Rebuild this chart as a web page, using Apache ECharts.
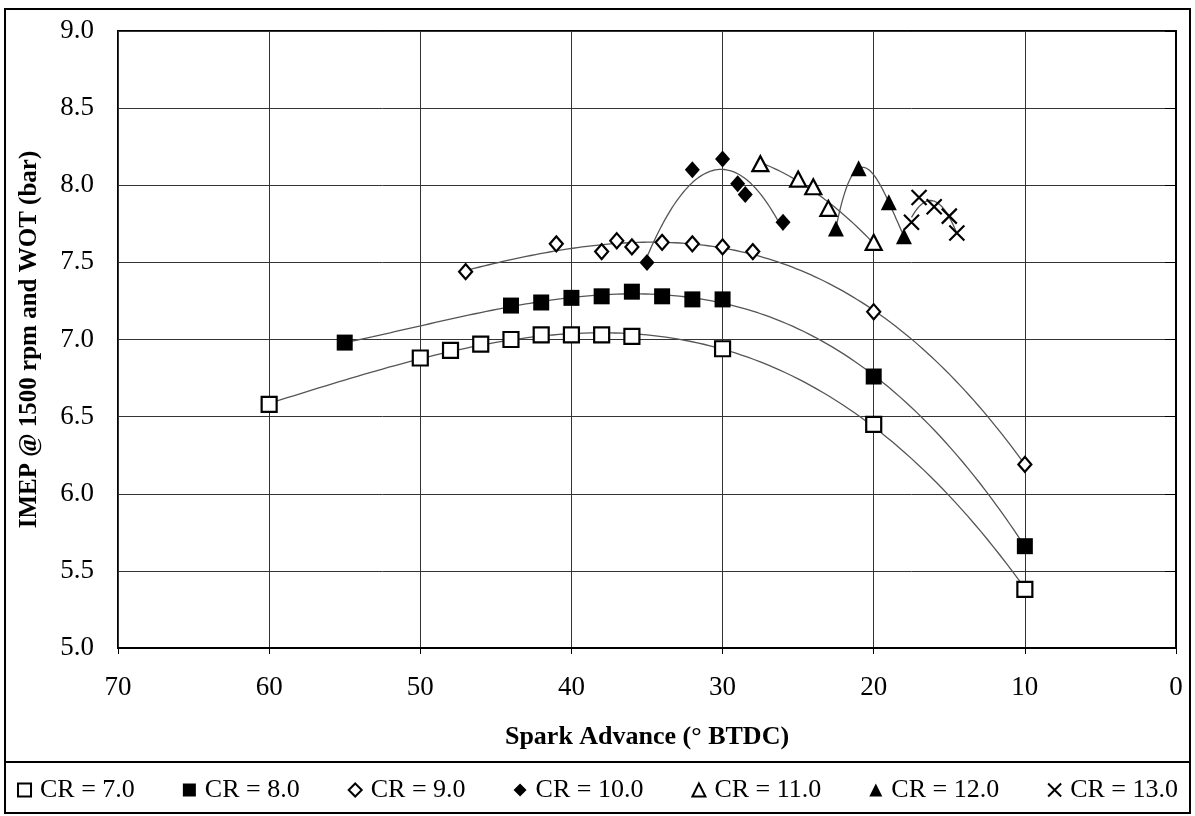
<!DOCTYPE html>
<html>
<head>
<meta charset="utf-8">
<script src="https://cdn.jsdelivr.net/npm/echarts@6/dist/echarts.min.js"></script>
<style>
  html, body { margin: 0; padding: 0; background: #fff; }
  #chart { width: 1195px; height: 816px; }
</style>
</head>
<body>
<div id="chart"></div>
<script>
// Spark advance (deg BTDC) and IMEP (bar) at 1500 rpm, WOT, per compression ratio
const seriesNames = ['CR = 7.0', 'CR = 8.0', 'CR = 9.0', 'CR = 10.0', 'CR = 11.0', 'CR = 12.0', 'CR = 13.0'];

const spark7 = [60, 50, 48, 46, 44, 42, 40, 38, 36, 30, 20, 10];
const imep7  = [6.58, 6.88, 6.93, 6.97, 7.00, 7.03, 7.03, 7.03, 7.02, 6.94, 6.45, 5.38];

const spark8 = [55, 44, 42, 40, 38, 36, 34, 32, 30, 20, 10];
const imep8  = [6.98, 7.22, 7.24, 7.27, 7.28, 7.31, 7.28, 7.26, 7.26, 6.76, 5.66];

const spark9 = [47, 41, 38, 37, 36, 34, 32, 30, 28, 20, 10];
const imep9  = [7.44, 7.62, 7.57, 7.64, 7.60, 7.63, 7.62, 7.60, 7.57, 7.18, 6.19];

const spark10 = [35, 32, 30, 29, 28.5, 26];
const imep10  = [7.50, 8.10, 8.17, 8.01, 7.94, 7.76];

const spark11 = [27.5, 25, 24, 23, 20];
const imep11  = [8.14, 8.04, 7.99, 7.85, 7.63];

const spark12 = [22.5, 21, 19, 18];
const imep12  = [7.72, 8.11, 7.89, 7.67];

const spark13 = [17.5, 17, 16, 15, 14.5];
const imep13  = [7.76, 7.92, 7.86, 7.80, 7.69];

const sparkSets = [spark7, spark8, spark9, spark10, spark11, spark12, spark13];
const imepSets  = [imep7, imep8, imep9, imep10, imep11, imep12, imep13];

// Polynomial order of each trendline
const trendOrder = [3, 3, 3, 2, 2, 3, 2];

// Least-squares polynomial trendline (x centred for conditioning)
function polyfit(xs, ys, deg) {
  const mean = xs.reduce((a, b) => a + b, 0) / xs.length;
  const n = deg + 1;
  const A = Array.from({ length: n }, () => new Array(n + 1).fill(0));
  for (let i = 0; i < xs.length; i++) {
    const x = xs[i] - mean;
    for (let r = 0; r < n; r++) {
      for (let c = 0; c < n; c++) A[r][c] += Math.pow(x, r + c);
      A[r][n] += ys[i] * Math.pow(x, r);
    }
  }
  for (let col = 0; col < n; col++) {
    let piv = col;
    for (let r = col + 1; r < n; r++) if (Math.abs(A[r][col]) > Math.abs(A[piv][col])) piv = r;
    [A[col], A[piv]] = [A[piv], A[col]];
    for (let r = 0; r < n; r++) {
      if (r === col) continue;
      const f = A[r][col] / A[col][col];
      for (let c = col; c <= n; c++) A[r][c] -= f * A[col][c];
    }
  }
  const coef = A.map((row, i) => row[n] / row[i]);
  return x => coef.reduce((s, a, i) => s + a * Math.pow(x - mean, i), 0);
}

function trendline(xs, ys, deg) {
  const f = polyfit(xs, ys, deg);
  const lo = Math.min(...xs), hi = Math.max(...xs);
  const pts = [];
  const steps = 120;
  for (let i = 0; i <= steps; i++) {
    const x = lo + (hi - lo) * i / steps;
    pts.push([x, f(x)]);
  }
  return pts;
}

const FONT = '"Liberation Serif", "Times New Roman", serif';
const crossPath = 'path://M0,0L10,10M10,0L0,10';

const markerStyles = [
  { symbol: 'rect', symbolSize: 15, itemStyle: { color: '#fff', borderColor: '#000', borderWidth: 2.2, opacity: 1 } },
  { symbol: 'rect', symbolSize: 16, itemStyle: { color: '#000', borderColor: '#000', borderWidth: 0, opacity: 1 } },
  { symbol: 'diamond', symbolSize: [13, 15], itemStyle: { color: '#fff', borderColor: '#000', borderWidth: 2.2, opacity: 1 } },
  { symbol: 'diamond', symbolSize: [15, 17], itemStyle: { color: '#000', borderColor: '#000', borderWidth: 0, opacity: 1 } },
  { symbol: 'triangle', symbolSize: [16, 15], itemStyle: { color: '#fff', borderColor: '#000', borderWidth: 2.2, opacity: 1 } },
  { symbol: 'triangle', symbolSize: [16, 16], itemStyle: { color: '#000', borderColor: '#000', borderWidth: 0, opacity: 1 } },
  { symbol: crossPath, symbolSize: 15, itemStyle: { color: 'rgba(0,0,0,0)', borderColor: '#000', borderWidth: 2.2, opacity: 1 } }
];

const series = [];
// Trendlines drawn first, underneath the markers
sparkSets.forEach((xs, i) => {
  series.push({
    type: 'line',
    name: seriesNames[i] + ' trend',
    data: trendline(xs, imepSets[i], trendOrder[i]),
    showSymbol: false,
    silent: true,
    smooth: false,
    lineStyle: { color: '#555', width: 1.3 },
    z: 2
  });
});
sparkSets.forEach((xs, i) => {
  series.push(Object.assign({
    type: 'scatter',
    name: seriesNames[i],
    data: xs.map((x, k) => [x, imepSets[i][k]]),
    z: 5
  }, markerStyles[i]));
});

const chart = echarts.init(document.getElementById('chart'), null, { renderer: 'canvas' });
chart.setOption({
  backgroundColor: '#fff',
  animation: false,
  grid: {
    left: 118, right: 19, top: 31, bottom: 168,
    show: true, borderColor: '#000', borderWidth: 2, backgroundColor: 'transparent'
  },
  xAxis: {
    type: 'value',
    inverse: true,
    min: 0, max: 70, interval: 10,
    name: 'Spark Advance (° BTDC)',
    nameLocation: 'middle',
    nameGap: 76,
    nameTextStyle: { fontFamily: FONT, fontSize: 26, fontWeight: 'bold', color: '#000' },
    axisLine: { show: true, onZero: false, lineStyle: { color: '#000', width: 2 } },
    axisTick: { show: true, length: 6, lineStyle: { color: '#000' } },
    axisLabel: { fontFamily: FONT, fontSize: 27, color: '#000', margin: 26 },
    splitLine: { show: true, lineStyle: { color: '#333', width: 1 } }
  },
  yAxis: {
    type: 'value',
    min: 5, max: 9, interval: 0.5,
    name: 'IMEP @ 1500 rpm and WOT (bar)',
    nameLocation: 'middle',
    nameGap: 76,
    nameTextStyle: { fontFamily: FONT, fontSize: 25, fontWeight: 'bold', color: '#000' },
    axisLine: { show: true, lineStyle: { color: '#000', width: 2 } },
    axisTick: { show: true, length: 11, lineStyle: { color: '#000' } },
    axisLabel: { fontFamily: FONT, fontSize: 27, color: '#000', margin: 24, formatter: v => v.toFixed(1) },
    splitLine: { show: true, lineStyle: { color: '#333', width: 1 } }
  },
  legend: {
    data: seriesNames,
    left: 'center',
    top: 772,
    itemGap: 48,
    itemWidth: 13,
    itemHeight: 13,
    textStyle: { fontFamily: FONT, fontSize: 26, color: '#000', padding: [0, 0, 0, 4] },
    selectedMode: false
  },
  graphic: [
    { type: 'rect', shape: { x: 5, y: 9, width: 1185, height: 804 }, style: { fill: 'none', stroke: '#000', lineWidth: 2 }, silent: true },
    { type: 'line', shape: { x1: 5, y1: 762, x2: 1190, y2: 762 }, style: { stroke: '#000', lineWidth: 2 }, silent: true }
  ],
  series: series
});
</script>
</body>
</html>
